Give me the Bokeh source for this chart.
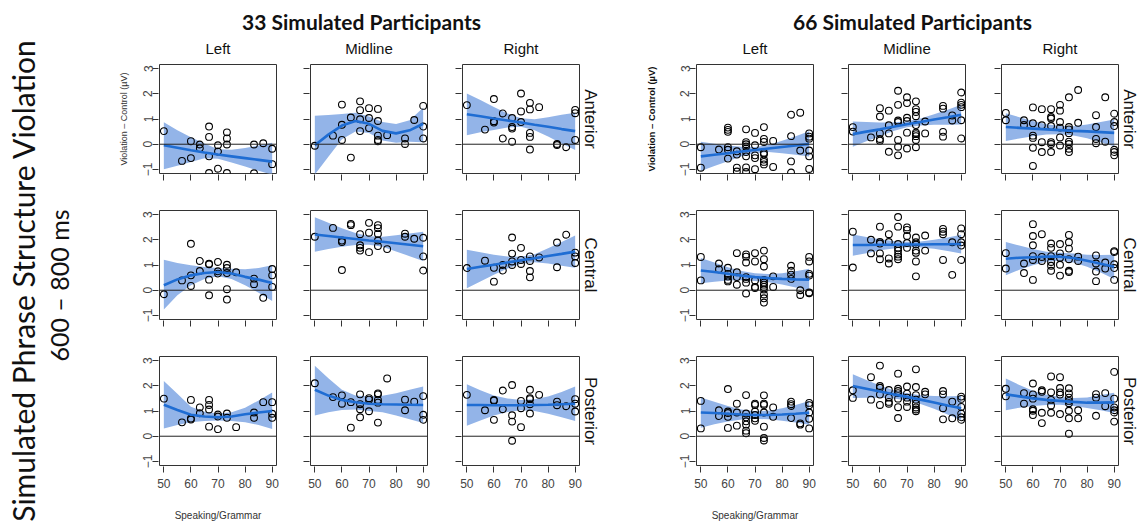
import math
from bokeh.plotting import figure
from bokeh.layouts import row, column
from bokeh.models import Range1d, FixedTicker, Span, Title
from bokeh.embed import file_html
from bokeh.resources import INLINE
from bokeh.core.properties import value

# ---------------- data ----------------
COLUMNS = ["Left", "Midline", "Right"]
ROWS = ["Anterior", "Central", "Posterior"]
GROUP_TITLES = ["33 Simulated Participants", "66 Simulated Participants"]
MAIN_TITLE = ["Simulated Phrase Structure Violation", "600 \u2013 800 ms"]
Y_LABEL = "Violation \u2013 Control (\u00b5V)"
X_LABEL = "Speaking/Grammar"
X_TICKS = [50, 60, 70, 80, 90]
Y_TICKS = [-1, 0, 1, 2, 3]
XFIT = [50, 55, 60, 65, 70, 75, 80, 85, 90]

# ---- 33 participants ----
x33_LA = [50, 56.7, 60, 60, 63.3, 63.3, 66.7, 66.7, 66.7, 66.7, 70, 70, 70, 73.3, 73.3, 73.3, 73.3, 83.3, 83.3, 86.7, 90, 90]
y33_LA = [0.52, -0.66, -0.55, 0.12, -0.01, -0.16, 0.70, 0.29, -0.48, -1.14, -0.04, -0.29, -0.97, 0.47, 0.23, -0.01, -1.14, -0.01, -1.15, 0.04, -0.18, -0.79]
fit33_LA = [-0.04, -0.14, -0.24, -0.33, -0.41, -0.48, -0.55, -0.62, -0.69]
lo33_LA = [-0.99, -0.85, -0.70, -0.56, -0.58, -0.72, -0.88, -1.05, -1.21]
hi33_LA = [0.87, 0.55, 0.28, 0.03, -0.20, -0.22, -0.15, -0.05, 0.06]

x33_MA = [50, 56.7, 60, 60, 60, 63.3, 63.3, 66.7, 66.7, 66.7, 66.7, 70, 70, 70, 73.3, 73.3, 73.3, 73.3, 73.3, 76.7, 83.3, 83.3, 86.7, 90, 90, 90]
y33_MA = [-0.06, 0.34, 1.57, 0.77, 0.17, 1.06, -0.53, 1.70, 1.35, 0.99, 0.52, 1.43, 1.04, 0.64, 1.40, 0.92, 0.34, 0.17, 0.12, 0.36, 0.23, 0.01, 0.96, 1.52, 0.70, 0.23]
fit33_MA = [-0.04, 0.38, 0.74, 0.92, 0.81, 0.53, 0.43, 0.55, 0.81]
lo33_MA = [-1.20, -0.50, 0.20, 0.50, 0.45, 0.15, 0.06, 0.10, 0.08]
hi33_MA = [1.13, 1.16, 1.20, 1.25, 1.10, 0.88, 0.80, 0.95, 1.45]

x33_RA = [50, 56.7, 60, 60, 60, 63.3, 63.3, 66.7, 66.7, 66.7, 66.7, 70, 70, 70, 73.3, 73.3, 73.3, 73.3, 73.3, 76.7, 83.3, 83.3, 86.7, 90, 90, 90]
y33_RA = [1.55, 0.58, 1.79, 0.91, 0.86, 1.22, 0.23, 1.04, 0.68, 0.62, 0.10, 2.01, 1.30, 0.88, 1.64, 1.38, 0.45, 0.29, -0.21, 1.47, 0.01, -0.03, -0.12, 1.36, 1.23, 0.17]
fit33_RA = [1.19, 1.11, 1.02, 0.94, 0.86, 0.77, 0.69, 0.60, 0.52]
lo33_RA = [0.36, 0.47, 0.56, 0.66, 0.69, 0.55, 0.31, 0.03, -0.23]
hi33_RA = [2.01, 1.75, 1.48, 1.22, 1.03, 0.99, 1.07, 1.17, 1.25]

x33_LC = [50, 56.7, 60, 60, 60, 63.3, 63.3, 66.7, 66.7, 66.7, 66.7, 70, 70, 70, 73.3, 73.3, 73.3, 73.3, 73.3, 76.7, 83.3, 83.3, 86.7, 90, 90, 90]
y33_LC = [-0.16, 0.39, 1.84, 0.59, 0.17, 1.16, 0.76, 1.05, 1.03, 0.42, -0.20, 1.12, 0.75, 0.66, 1.01, 0.88, 0.68, 0.04, -0.37, 0.71, 0.46, 0.24, -0.30, 0.84, 0.59, 0.13]
fit33_LC = [0.20, 0.43, 0.59, 0.68, 0.72, 0.66, 0.53, 0.42, 0.29]
lo33_LC = [-0.76, -0.20, 0.20, 0.45, 0.55, 0.45, 0.20, -0.10, -0.43]
hi33_LC = [1.21, 1.08, 0.99, 0.92, 0.88, 0.85, 0.83, 0.88, 0.99]

x33_MC = [50, 56.7, 60, 60, 60, 63.3, 63.3, 66.7, 66.7, 66.7, 66.7, 70, 70, 70, 73.3, 73.3, 73.3, 73.3, 73.3, 76.7, 83.3, 83.3, 86.7, 90, 90, 90]
y33_MC = [2.12, 2.47, 1.97, 1.91, 0.80, 2.63, 2.58, 2.22, 1.78, 1.68, 1.57, 2.67, 2.28, 1.51, 2.58, 2.46, 2.24, 1.97, 1.75, 1.63, 2.24, 2.12, 2.04, 2.08, 1.34, 0.78]
fit33_MC = [2.21, 2.15, 2.09, 2.03, 1.97, 1.92, 1.86, 1.80, 1.74]
lo33_MC = [1.53, 1.63, 1.72, 1.79, 1.80, 1.72, 1.54, 1.35, 1.16]
hi33_MC = [2.89, 2.67, 2.46, 2.27, 2.14, 2.12, 2.18, 2.25, 2.32]

x33_RC = [50, 56.7, 60, 60, 63.3, 63.3, 66.7, 66.7, 66.7, 66.7, 70, 70, 70, 73.3, 73.3, 73.3, 73.3, 76.7, 83.3, 83.3, 86.7, 90, 90, 90]
y33_RC = [0.88, 1.17, 0.89, 0.34, 1.00, 0.78, 2.09, 1.45, 1.14, 1.00, 1.68, 1.20, 1.04, 1.34, 1.16, 0.76, 0.51, 1.30, 1.89, 0.91, 2.20, 1.49, 1.34, 1.08]
fit33_RC = [0.84, 0.93, 1.01, 1.10, 1.19, 1.27, 1.36, 1.44, 1.53]
lo33_RC = [0.08, 0.35, 0.61, 0.86, 1.05, 1.11, 1.06, 0.97, 0.89]
hi33_RC = [1.60, 1.51, 1.41, 1.34, 1.33, 1.43, 1.66, 1.91, 2.17]

x33_LP = [50, 56.7, 60, 60, 60, 63.3, 63.3, 66.7, 66.7, 66.7, 66.7, 70, 70, 70, 73.3, 73.3, 76.7, 83.3, 83.3, 86.7, 90, 90, 90]
y33_LP = [1.49, 0.55, 1.44, 0.70, 0.66, 1.14, 0.91, 1.44, 1.24, 1.06, 0.38, 0.86, 0.78, 0.28, 0.90, 0.73, 0.36, 0.94, 0.73, 1.35, 1.35, 0.89, 0.73]
fit33_LP = [1.25, 1.04, 0.85, 0.78, 0.75, 0.78, 0.87, 0.94, 1.00]
lo33_LP = [0.31, 0.45, 0.55, 0.60, 0.62, 0.60, 0.55, 0.45, 0.29]
hi33_LP = [2.19, 1.68, 1.17, 0.97, 0.90, 0.95, 1.13, 1.42, 1.73]

x33_MP = [50, 56.7, 60, 60, 63.3, 63.3, 66.7, 66.7, 66.7, 66.7, 70, 70, 70, 73.3, 73.3, 73.3, 73.3, 73.3, 76.7, 83.3, 83.3, 86.7, 90, 90, 90]
y33_MP = [2.10, 1.55, 1.62, 1.29, 1.35, 0.34, 1.66, 1.27, 1.07, 0.75, 1.51, 1.45, 0.99, 1.70, 1.66, 1.44, 1.33, 0.54, 2.29, 1.45, 1.03, 1.37, 1.59, 0.85, 0.65]
fit33_MP = [1.84, 1.61, 1.44, 1.35, 1.29, 1.27, 1.26, 1.25, 1.24]
lo33_MP = [0.82, 0.95, 1.04, 1.06, 1.00, 0.95, 0.82, 0.67, 0.52]
hi33_MP = [2.79, 2.30, 1.84, 1.61, 1.57, 1.60, 1.70, 1.84, 1.97]

x33_RP = [50, 56.7, 60, 60, 60, 63.3, 63.3, 66.7, 66.7, 66.7, 66.7, 70, 70, 70, 73.3, 73.3, 73.3, 73.3, 73.3, 76.7, 83.3, 83.3, 86.7, 90, 90, 90]
y33_RP = [1.64, 1.03, 1.44, 1.41, 0.65, 1.81, 1.07, 2.03, 0.83, 0.58, -0.18, 1.40, 1.11, 0.36, 1.84, 1.51, 1.47, 1.27, 0.90, 1.64, 1.37, 1.23, 1.19, 1.47, 1.29, 0.98]
fit33_RP = [1.24, 1.24, 1.23, 1.23, 1.23, 1.24, 1.25, 1.27, 1.29]
lo33_RP = [0.42, 0.62, 0.82, 0.96, 1.03, 1.00, 0.89, 0.75, 0.60]
hi33_RP = [2.06, 1.82, 1.61, 1.50, 1.44, 1.47, 1.57, 1.75, 1.97]

# ---- 66 participants ----
x66_LA = [50, 50, 56.7, 60, 60, 60, 60, 60, 60, 63.3, 63.3, 63.3, 63.3, 66.7, 66.7, 66.7, 66.7, 66.7, 66.7, 66.7, 66.7, 70, 70, 70, 70, 70, 73.3, 73.3, 73.3, 73.3, 73.3, 73.3, 73.3, 73.3, 76.7, 76.7, 83.3, 83.3, 83.3, 83.3, 86.7, 86.7, 90, 90, 90, 90, 90, 90]
y66_LA = [-0.12, -0.93, -0.21, 0.66, 0.57, 0.49, -0.12, -0.22, -0.57, -0.28, -0.41, -0.93, -1.08, 0.59, 0.08, 0.00, -0.09, -0.31, -0.48, -0.92, -1.10, 0.45, -0.04, -0.44, -0.55, -0.99, 0.68, 0.21, 0.09, -0.34, -0.40, -0.61, -0.70, -0.80, 0.13, -0.90, 1.17, 0.32, -0.68, -1.12, 1.25, -0.25, 0.43, 0.30, 0.22, -0.25, -0.48, -0.98]
fit66_LA = [-0.48, -0.42, -0.36, -0.29, -0.23, -0.17, -0.11, -0.05, 0.01]
lo66_LA = [-1.06, -0.86, -0.67, -0.48, -0.35, -0.31, -0.36, -0.42, -0.49]
hi66_LA = [0.10, 0.02, -0.05, -0.10, -0.11, -0.03, 0.14, 0.32, 0.51]

x66_MA = [50, 50, 56.7, 60, 60, 60, 60, 60, 63.3, 63.3, 63.3, 63.3, 66.7, 66.7, 66.7, 66.7, 66.7, 66.7, 66.7, 70, 70, 70, 70, 70, 70, 73.3, 73.3, 73.3, 73.3, 73.3, 73.3, 73.3, 73.3, 73.3, 73.3, 76.7, 76.7, 83.3, 83.3, 83.3, 83.3, 86.7, 86.7, 90, 90, 90, 90, 90, 90]
y66_MA = [0.68, 0.50, 0.27, 1.43, 1.10, 0.43, 0.21, 0.14, 1.33, 0.75, 0.43, -0.30, 2.12, 1.56, 0.94, 0.88, 0.17, -0.10, -0.44, 1.86, 1.63, 1.05, 0.92, 0.46, -0.17, 1.70, 1.39, 1.28, 1.11, 0.76, 0.46, 0.40, 0.32, 0.17, -0.12, 0.90, 0.43, 1.52, 1.41, 0.49, 0.30, 1.14, 0.94, 2.05, 1.65, 1.56, 1.47, 0.95, 0.23]
fit66_MA = [0.40, 0.50, 0.59, 0.69, 0.79, 0.88, 0.98, 1.07, 1.17]
lo66_MA = [-0.10, 0.12, 0.32, 0.52, 0.67, 0.74, 0.77, 0.77, 0.78]
hi66_MA = [0.90, 0.88, 0.86, 0.86, 0.91, 1.02, 1.19, 1.37, 1.56]

x66_RA = [50, 50, 56.7, 56.7, 60, 60, 60, 60, 60, 60, 63.3, 63.3, 63.3, 63.3, 66.7, 66.7, 66.7, 66.7, 66.7, 66.7, 66.7, 70, 70, 70, 70, 70, 70, 73.3, 73.3, 73.3, 73.3, 73.3, 73.3, 73.3, 73.3, 76.7, 76.7, 83.3, 83.3, 83.3, 83.3, 86.7, 86.7, 90, 90, 90, 90, 90, 90]
y66_RA = [1.24, 0.95, 0.95, 0.76, 1.46, 0.83, 0.34, 0.25, -0.14, -0.86, 1.39, 0.75, 0.08, -0.31, 1.39, 1.08, 1.02, 0.72, 0.08, 0.01, -0.31, 1.56, 1.33, 0.88, 0.66, 0.27, -0.05, 1.86, 0.68, 0.59, 0.44, 0.10, 0.01, -0.18, -0.31, 0.85, 2.15, 1.15, 0.68, 0.21, 0.04, 1.86, 0.10, 1.21, 0.88, 0.72, -0.22, -0.31, -0.44]
fit66_RA = [0.68, 0.65, 0.62, 0.59, 0.56, 0.53, 0.51, 0.48, 0.45]
lo66_RA = [0.13, 0.23, 0.32, 0.39, 0.40, 0.35, 0.24, 0.08, -0.08]
hi66_RA = [1.23, 1.07, 0.92, 0.79, 0.72, 0.71, 0.78, 0.88, 0.98]

x66_LC = [50, 50, 56.7, 56.7, 60, 60, 60, 60, 60, 63.3, 63.3, 63.3, 63.3, 66.7, 66.7, 66.7, 66.7, 66.7, 66.7, 66.7, 70, 70, 70, 70, 70, 73.3, 73.3, 73.3, 73.3, 73.3, 73.3, 73.3, 73.3, 73.3, 73.3, 73.3, 76.7, 76.7, 83.3, 83.3, 83.3, 83.3, 86.7, 86.7, 90, 90, 90, 90, 90, 90]
y66_LC = [1.32, 0.39, 1.06, 0.83, 0.89, 0.65, 0.54, 0.41, 0.35, 1.47, 0.71, 0.52, 0.22, 1.42, 1.33, 1.10, 0.52, 0.45, 0.30, -0.13, 1.47, 1.14, 0.39, 0.13, 0.09, 1.57, 1.23, 0.94, 0.41, 0.30, 0.22, 0.13, 0.03, -0.17, -0.32, -0.49, 0.55, 0.13, 0.97, 0.77, 0.62, 0.45, 0.00, -0.19, 1.32, 1.14, 0.65, 0.58, -0.09, -0.12]
fit66_LC = [0.78, 0.72, 0.65, 0.58, 0.52, 0.48, 0.45, 0.43, 0.42]
lo66_LC = [0.28, 0.34, 0.39, 0.40, 0.37, 0.32, 0.23, 0.11, -0.01]
hi66_LC = [1.28, 1.10, 0.91, 0.76, 0.67, 0.64, 0.67, 0.75, 0.85]

x66_MC = [50, 50, 56.7, 56.7, 60, 60, 60, 60, 60, 63.3, 63.3, 63.3, 63.3, 66.7, 66.7, 66.7, 66.7, 66.7, 66.7, 66.7, 66.7, 70, 70, 70, 70, 70, 73.3, 73.3, 73.3, 73.3, 73.3, 73.3, 73.3, 76.7, 76.7, 83.3, 83.3, 83.3, 83.3, 86.7, 86.7, 90, 90, 90, 90, 90]
y66_MC = [2.32, 0.90, 2.00, 1.46, 2.52, 1.91, 1.85, 1.46, 1.23, 2.22, 1.91, 1.26, 1.06, 2.90, 2.52, 1.83, 1.68, 1.57, 1.42, 1.33, 1.23, 2.49, 2.39, 2.15, 1.87, 1.68, 2.09, 1.90, 1.81, 1.57, 1.48, 1.14, 0.55, 2.17, 1.57, 2.43, 2.32, 2.22, 1.20, 1.90, 0.61, 2.45, 2.22, 1.90, 1.77, 1.20]
fit66_MC = [1.79, 1.79, 1.80, 1.80, 1.81, 1.81, 1.82, 1.82, 1.83]
lo66_MC = [1.37, 1.47, 1.58, 1.65, 1.70, 1.69, 1.64, 1.55, 1.46]
hi66_MC = [2.21, 2.11, 2.02, 1.95, 1.92, 1.93, 2.00, 2.09, 2.20]

x66_RC = [50, 50, 56.7, 56.7, 60, 60, 60, 60, 60, 60, 63.3, 63.3, 63.3, 66.7, 66.7, 66.7, 66.7, 66.7, 66.7, 70, 70, 70, 70, 70, 73.3, 73.3, 73.3, 73.3, 73.3, 73.3, 76.7, 76.7, 83.3, 83.3, 83.3, 83.3, 86.7, 86.7, 90, 90, 90, 90, 90]
y66_RC = [1.47, 0.86, 1.06, 0.68, 2.62, 2.15, 1.78, 1.35, 1.20, 0.41, 2.22, 1.32, 1.16, 1.85, 1.68, 1.35, 1.12, 0.97, 0.77, 1.83, 1.46, 1.29, 1.01, 0.58, 2.19, 1.90, 1.65, 1.23, 0.77, 0.72, 1.33, 1.16, 1.38, 1.06, 0.74, 0.36, 1.10, 0.86, 1.55, 1.51, 1.03, 0.88, 0.41]
fit66_RC = [1.25, 1.29, 1.31, 1.33, 1.33, 1.28, 1.17, 1.05, 0.93]
lo66_RC = [0.59, 0.81, 0.99, 1.13, 1.17, 1.10, 0.93, 0.70, 0.45]
hi66_RC = [1.91, 1.77, 1.63, 1.53, 1.49, 1.46, 1.41, 1.40, 1.41]

x66_LP = [50, 50, 56.7, 56.7, 60, 60, 60, 60, 60, 63.3, 63.3, 63.3, 66.7, 66.7, 66.7, 66.7, 66.7, 66.7, 66.7, 70, 70, 70, 70, 70, 70, 73.3, 73.3, 73.3, 73.3, 73.3, 73.3, 73.3, 76.7, 76.7, 83.3, 83.3, 83.3, 83.3, 86.7, 86.7, 90, 90, 90, 90, 90]
y66_LP = [1.40, 0.31, 1.03, 0.80, 1.87, 0.98, 0.92, 0.77, 0.33, 1.29, 0.94, 0.42, 1.63, 0.90, 0.75, 0.59, 0.46, 0.22, 0.12, 1.29, 1.24, 0.98, 0.84, 0.71, 0.61, 1.62, 1.29, 1.24, 0.94, 0.38, -0.07, -0.17, 1.14, 0.77, 1.37, 1.27, 1.20, 0.72, 0.51, 0.46, 1.32, 1.23, 0.94, 0.69, 0.31]
fit66_LP = [0.94, 0.92, 0.89, 0.86, 0.84, 0.84, 0.86, 0.89, 0.93]
lo66_LP = [0.34, 0.47, 0.58, 0.66, 0.69, 0.67, 0.61, 0.54, 0.46]
hi66_LP = [1.54, 1.37, 1.20, 1.06, 0.99, 1.01, 1.11, 1.24, 1.40]

x66_MP = [50, 50, 56.7, 56.7, 60, 60, 60, 60, 60, 63.3, 63.3, 63.3, 63.3, 66.7, 66.7, 66.7, 66.7, 66.7, 66.7, 66.7, 70, 70, 70, 70, 70, 73.3, 73.3, 73.3, 73.3, 73.3, 73.3, 73.3, 73.3, 76.7, 76.7, 83.3, 83.3, 83.3, 83.3, 86.7, 86.7, 90, 90, 90, 90, 90, 90]
y66_MP = [1.82, 1.52, 2.34, 1.45, 2.80, 1.99, 1.92, 1.65, 1.24, 1.83, 1.53, 1.36, 1.29, 2.48, 1.88, 1.79, 1.71, 1.49, 1.15, 0.72, 1.97, 1.69, 1.53, 1.37, 1.16, 2.65, 1.95, 1.63, 1.45, 1.29, 1.14, 1.06, 0.99, 1.76, 1.66, 1.79, 1.66, 1.11, 0.67, 1.37, 0.71, 1.57, 1.48, 1.16, 0.90, 0.75, 0.65]
fit66_MP = [1.99, 1.88, 1.77, 1.66, 1.56, 1.45, 1.34, 1.22, 1.11]
lo66_MP = [1.52, 1.53, 1.53, 1.50, 1.42, 1.28, 1.09, 0.86, 0.63]
hi66_MP = [2.46, 2.23, 2.01, 1.82, 1.70, 1.62, 1.59, 1.58, 1.59]

x66_RP = [50, 50, 56.7, 56.7, 60, 60, 60, 60, 60, 60, 63.3, 63.3, 63.3, 63.3, 66.7, 66.7, 66.7, 66.7, 66.7, 70, 70, 70, 70, 70, 73.3, 73.3, 73.3, 73.3, 73.3, 73.3, 73.3, 73.3, 76.7, 76.7, 83.3, 83.3, 83.3, 86.7, 86.7, 90, 90, 90, 90, 90, 90]
y66_RP = [1.88, 1.58, 1.71, 1.29, 2.09, 1.66, 1.49, 1.07, 1.01, 0.84, 1.82, 1.76, 0.93, 0.52, 2.37, 1.74, 1.44, 1.22, 0.93, 2.34, 1.91, 1.74, 1.65, 0.88, 1.90, 1.70, 1.53, 1.40, 1.31, 1.01, 0.71, 0.10, 1.03, 0.71, 1.67, 1.53, 0.81, 1.71, 1.19, 2.55, 1.49, 1.14, 1.03, 0.94, 0.58]
fit66_RP = [1.66, 1.58, 1.50, 1.44, 1.40, 1.36, 1.33, 1.33, 1.34]
lo66_RP = [1.03, 1.13, 1.20, 1.24, 1.25, 1.20, 1.12, 1.03, 0.92]
hi66_RP = [2.29, 2.03, 1.80, 1.64, 1.55, 1.52, 1.54, 1.63, 1.72]

PANELS = {
    33: [[(x33_LA, y33_LA, fit33_LA, lo33_LA, hi33_LA), (x33_MA, y33_MA, fit33_MA, lo33_MA, hi33_MA), (x33_RA, y33_RA, fit33_RA, lo33_RA, hi33_RA)],
         [(x33_LC, y33_LC, fit33_LC, lo33_LC, hi33_LC), (x33_MC, y33_MC, fit33_MC, lo33_MC, hi33_MC), (x33_RC, y33_RC, fit33_RC, lo33_RC, hi33_RC)],
         [(x33_LP, y33_LP, fit33_LP, lo33_LP, hi33_LP), (x33_MP, y33_MP, fit33_MP, lo33_MP, hi33_MP), (x33_RP, y33_RP, fit33_RP, lo33_RP, hi33_RP)]],
    66: [[(x66_LA, y66_LA, fit66_LA, lo66_LA, hi66_LA), (x66_MA, y66_MA, fit66_MA, lo66_MA, hi66_MA), (x66_RA, y66_RA, fit66_RA, lo66_RA, hi66_RA)],
         [(x66_LC, y66_LC, fit66_LC, lo66_LC, hi66_LC), (x66_MC, y66_MC, fit66_MC, lo66_MC, hi66_MC), (x66_RC, y66_RC, fit66_RC, lo66_RC, hi66_RC)],
         [(x66_LP, y66_LP, fit66_LP, lo66_LP, hi66_LP), (x66_MP, y66_MP, fit66_MP, lo66_MP, hi66_MP), (x66_RP, y66_RP, fit66_RP, lo66_RP, hi66_RP)]],
}

# ---------------- style ----------------
BAND = "#93b4e8"
LINE = "#1f6dd3"
FONT = "Liberation Sans"
TITLE_FONT = "Lato"
HEADER_H = 58

# column geometry: (figure width, left border, right border)
COLS_GEOM = {
    33: [(192, 59, 16), (153, 18, 18), (165, 17, 31)],
    66: [(220, 86, 17), (153, 18, 18), (164, 18, 29)],
}
FRAME_W = 117
# row geometry: (figure height, top border, bottom border)
ROWS_GEOM = [(133, 6, 18), (146, 19, 18), (188, 19, 60)]


def panel(data, g, r, c):
    xs, ys, fit, lo, hi = data
    w, bl, br = COLS_GEOM[g][c]
    h, bt, bb = ROWS_GEOM[r]
    p = figure(width=w, height=h, x_range=Range1d(48.4, 91.6), y_range=Range1d(-1.16, 3.16),
               output_backend="svg", toolbar_location=None, title=None,
               min_border_left=bl, min_border_right=br, min_border_top=bt, min_border_bottom=bb)
    p.grid.visible = False
    p.outline_line_color = "#333333"
    p.outline_line_width = 1
    p.background_fill_color = "white"
    p.border_fill_color = "white"

    p.varea(x=XFIT, y1=lo, y2=hi, fill_color=BAND, fill_alpha=1.0)
    p.add_layout(Span(location=0, dimension="width", line_color="#222222", line_width=1))
    p.scatter(xs, ys, marker="circle", size=6.8, fill_color=None, line_color="black", line_width=1.1)
    p.line(XFIT, fit, line_color=LINE, line_width=2.6)

    for ax, ticks in ((p.xaxis, X_TICKS), (p.yaxis, Y_TICKS)):
        ax.ticker = FixedTicker(ticks=ticks)
        ax.axis_line_color = None
        ax.major_tick_in = -1
        ax.major_tick_out = 7
        ax.minor_tick_line_color = None
        ax.major_tick_line_color = "#333333"
        ax.major_label_text_font = FONT
        ax.major_label_text_font_size = "12px"
        ax.major_label_text_color = "#444444"
    p.yaxis.major_label_orientation = "vertical"
    p.yaxis.major_label_standoff = 0
    p.xaxis.major_label_standoff = 6

    if r != 2:
        p.xaxis.major_label_text_color = None
    if c != 0:
        p.yaxis.major_label_text_color = None

    if r == 0 and c == 0:
        p.yaxis.axis_label = Y_LABEL
        p.yaxis.axis_label_text_font = FONT
        p.yaxis.axis_label_text_font_style = "normal" if g == 33 else "bold"
        p.yaxis.axis_label_text_font_size = "9px" if g == 33 else "9.5px"
        p.yaxis.axis_label_text_color = "#333333" if g == 33 else "#111111"
        p.yaxis.axis_label_standoff = 12 if g == 33 else 21
    if r == 2 and c == 0:
        p.xaxis.axis_label = X_LABEL
        p.xaxis.axis_label_text_font = FONT
        p.xaxis.axis_label_text_font_style = "normal"
        p.xaxis.axis_label_text_font_size = "10px"
        p.xaxis.axis_label_text_color = "#333333"
        p.xaxis.axis_label_standoff = 19

    if c == 2:
        p.add_layout(Title(text=ROWS[r], align="center", text_font=FONT, text_font_size="17px",
                           text_font_style="normal", text_color="#111111", standoff=3), "right")
    return p


def blank(width, height):
    f = figure(width=width, height=height, x_range=Range1d(0, width), y_range=Range1d(0, height),
               output_backend="svg", toolbar_location=None, title=None,
               min_border=0, min_border_left=0, min_border_right=0,
               min_border_top=0, min_border_bottom=0,
               x_axis_location=None, y_axis_location=None)
    f.grid.visible = False
    f.outline_line_color = None
    f.background_fill_color = "white"
    f.border_fill_color = "white"
    return f


# main rotated title
tf = blank(100, 525)
tf.text(x=[22], y=[245], text=[MAIN_TITLE[0]], angle=math.pi / 2,
        text_align="center", text_baseline="middle", text_font=value(TITLE_FONT),
        text_font_size="30px", text_color="#111111")
tf.text(x=[58], y=[240], text=[MAIN_TITLE[1]], angle=math.pi / 2,
        text_align="center", text_baseline="middle", text_font=value(TITLE_FONT),
        text_font_size="25px", text_color="#111111")

blocks = []
for gi, g in enumerate((33, 66)):
    geom = COLS_GEOM[g]
    gw = sum(cg[0] for cg in geom)
    hdr = blank(gw, HEADER_H)
    # group title centred over the three panels
    hdr.text(x=[261 if g == 33 else 302], y=[HEADER_H - 21], text=[GROUP_TITLES[gi]], text_align="center",
             text_baseline="middle", text_font=value(TITLE_FONT), text_font_style="bold",
             text_font_size="21px", text_color="#111111")
    # column titles centred over each panel frame
    centers, off = [], 0
    for (w, bl, br) in geom:
        centers.append(off + bl + FRAME_W / 2)
        off += w
    hdr.text(x=centers, y=[HEADER_H - 48] * 3, text=COLUMNS, text_align="center",
             text_baseline="middle", text_font=value(FONT), text_font_size="15px",
             text_color="#111111")
    rows_ = [hdr]
    for r in range(3):
        rows_.append(row([panel(PANELS[g][r][c], g, r, c) for c in range(3)], spacing=0))
    blocks.append(column(rows_, spacing=0))

layout = row([tf] + blocks, spacing=0)
open("out.html", "w").write(file_html(layout, INLINE))
